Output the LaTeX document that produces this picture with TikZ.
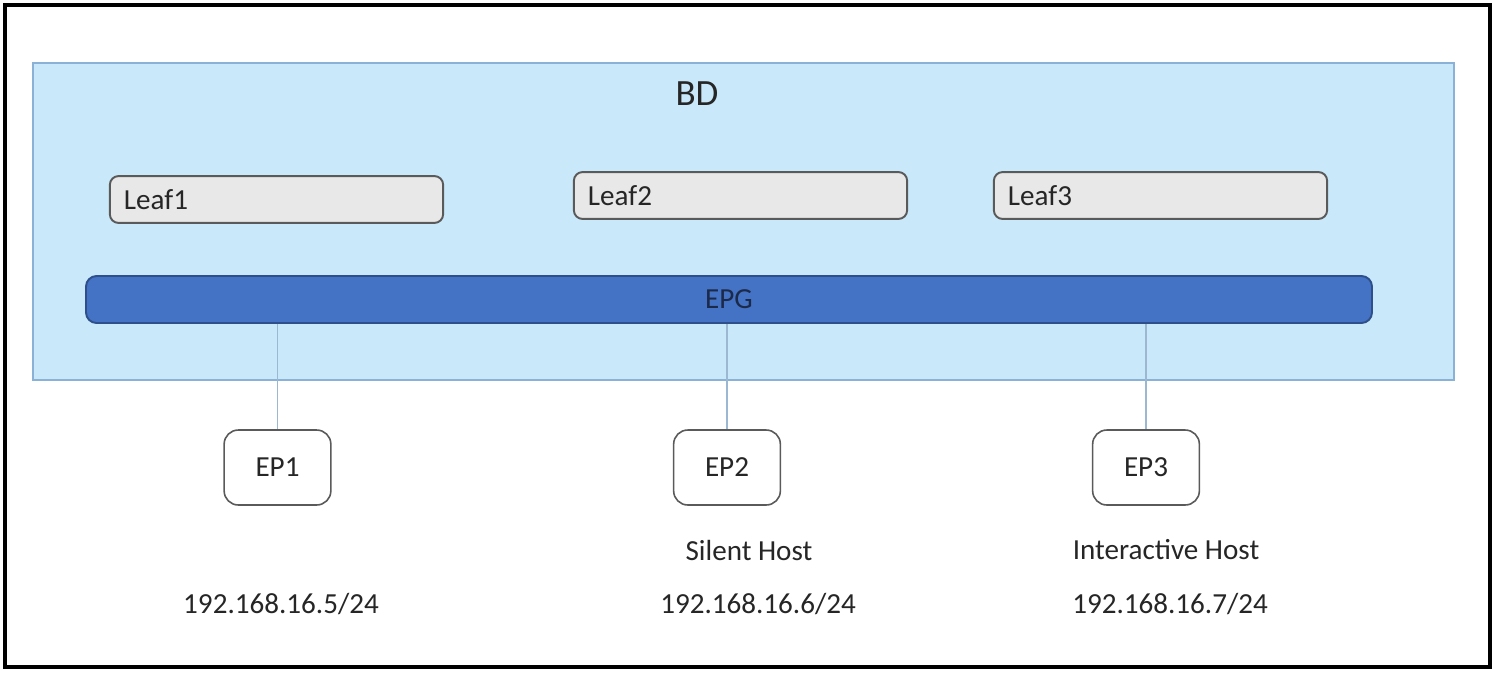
\documentclass[tikz,border=0pt]{standalone}
\usepackage{fontspec}
\setmainfont{Carlito}
\definecolor{bdfill}{HTML}{C9E9FB}
\definecolor{bdline}{HTML}{8AB2D6}
\definecolor{leaffill}{HTML}{E8E8E8}
\definecolor{leafline}{HTML}{5A5A5A}
\definecolor{epgfill}{HTML}{4472C4}
\definecolor{epgline}{HTML}{2F4F8A}
\definecolor{epgtext}{HTML}{1C2A4A}
\definecolor{conn}{HTML}{9BB7D2}
\definecolor{txt}{HTML}{262626}
\begin{document}
\begin{tikzpicture}[x=0.567pt,y=-0.567pt,
  every node/.style={font=\fontsize{16.5}{19}\selectfont, text=txt},
  leafbox/.style={draw=leafline, line width=1.1pt, fill=leaffill, rounded corners=5pt,
    minimum height=26.6pt, inner xsep=8pt, text width=173pt, align=left},
  epbox/.style={draw=leafline, line width=0.9pt, fill=white, rounded corners=8pt,
    minimum width=60.5pt, minimum height=42.5pt, inner sep=0pt},
  conline/.style={draw=conn, line width=0.8pt},
  lbl/.style={inner sep=0pt}]
\useasboundingbox (0,0) rectangle (1495,675);
\fill[white] (0,0) rectangle (1495,675);
% outer frame
\node[draw=black, line width=1.8pt, minimum width=1485*0.567pt, minimum height=662*0.567pt, inner sep=0pt] (frame) at (747.5,336) {};
% BD
\node[draw=bdline, line width=1.3pt, fill=bdfill, minimum width=1421*0.567pt, minimum height=317*0.567pt, inner sep=0pt] (BD) at (743.5,221.5) {};
\node[lbl, font=\fontsize{21}{25}\selectfont] (bdtxt) at (697,94) {BD};
% Leafs
\node[leafbox] (L1) at (276.5,199.5) {Leaf1};
\node[leafbox] (L2) at (740.5,195.5) {Leaf2};
\node[leafbox] (L3) at (1160.5,195.5) {Leaf3};
% EPG
\node[draw=epgline, line width=1.1pt, fill=epgfill, rounded corners=6pt,
  minimum width=1286*0.567pt, minimum height=47*0.567pt, inner sep=0pt, text=epgtext] (EPG) at (729,299.5) {EPG};
% EPs
\node[epbox] (EP1) at (277.5,467.5) {EP1};
\node[epbox] (EP2) at (727,467.5) {EP2};
\node[epbox] (EP3) at (1146,467.5) {EP3};
% connectors
\draw[conline] (EP1.north |- EPG.south) -- (EP1.north);
\draw[conline] (EP2.north |- EPG.south) -- (EP2.north);
\draw[conline] (EP3.north |- EPG.south) -- (EP3.north);
% labels
\node[lbl] (sh) at (749,550) {Silent Host};
\node[lbl] (ih) at (1166,550) {Interactive Host};
\node[lbl] (ip1) at (281,604) {192.168.16.5/24};
\node[lbl] (ip2) at (758,604) {192.168.16.6/24};
\node[lbl] (ip3) at (1170,604) {192.168.16.7/24};
\end{tikzpicture}
\end{document}
